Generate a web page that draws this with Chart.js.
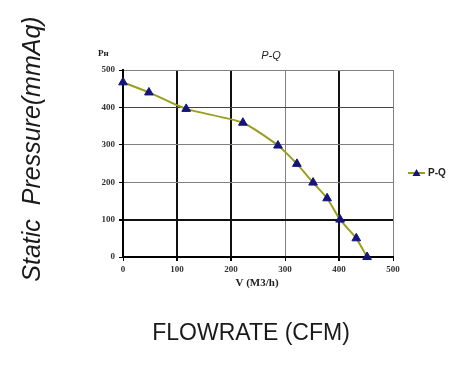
<!DOCTYPE html>
<html>
<head>
<meta charset="utf-8">
<script src="https://cdn.jsdelivr.net/npm/chart.js@4"></script>
<style>
  html, body { margin: 0; padding: 0; background: #fff; }
  #wrap { width: 473px; height: 373px; }
</style>
</head>
<body>
<div id="wrap"><canvas id="pqChart" width="473" height="373"></canvas></div>
<script>
// P-Q curve
const flowValues = [0, 48, 117, 222, 287, 322, 352, 378, 402, 432, 452];
const pressureValues = [467, 440, 396, 359, 298, 249, 199, 157, 100, 50, 0];
const xTicks = [0, 100, 200, 300, 400, 500];
const yTicks = [0, 100, 200, 300, 400, 500];
const seriesName = "P-Q";

const lineColor = "#9a9e1e";
const markerColor = "#14147a";

// grid lines in the scan are uneven: some dark, some grey
function xGridColor(ctx) {
  const v = ctx.tick && ctx.tick.value;
  return v === 100 || v === 200 || v === 400 ? "#111" : "#808080";
}
function yGridColor(ctx) {
  const v = ctx.tick && ctx.tick.value;
  if (v === 100) return "#111";
  if (v === 400) return "#444";
  return "#808080";
}

// Texts around the plot and the legend
const extraText = {
  id: "extraText",
  afterDraw(chart) {
    const c = chart.ctx;
    c.save();
    c.fillStyle = "#1a1a1a";

    // big y title
    c.save();
    c.translate(33, 149);
    c.rotate(-Math.PI / 2);
    c.font = 'italic 25px "Liberation Sans", Arial, sans-serif';
    c.textAlign = "center";
    c.textBaseline = "middle";
    c.fillText("Static  Pressure(mmAq)", 0, 0);
    c.restore();

    // big x title
    c.font = '23px "Liberation Sans", Arial, sans-serif';
    c.textAlign = "center";
    c.textBaseline = "alphabetic";
    c.fillText("FLOWRATE (CFM)", 251, 340);

    // small axis names
    c.fillStyle = "#222";
    c.font = 'bold 9px "Liberation Serif", serif';
    c.textAlign = "left";
    c.textBaseline = "middle";
    c.fillText("Pн", 98, 54);
    c.font = 'bold 11px "Liberation Serif", serif';
    c.textAlign = "center";
    c.fillText("V (M3/h)", 257, 283);

    // chart caption
    c.font = 'italic 11px "Liberation Sans", Arial, sans-serif';
    c.fillText(seriesName, 271, 56);

    // legend: short line with a triangle
    const ds = chart.data.datasets[0];
    c.strokeStyle = ds.borderColor;
    c.lineWidth = 2;
    c.beginPath();
    c.moveTo(408, 173);
    c.lineTo(425, 173);
    c.stroke();
    c.fillStyle = ds.pointBackgroundColor;
    c.beginPath();
    c.moveTo(416.5, 169);
    c.lineTo(420.5, 176);
    c.lineTo(412.5, 176);
    c.closePath();
    c.fill();
    c.fillStyle = "#222";
    c.font = 'bold 10px "Liberation Sans", Arial, sans-serif';
    c.textAlign = "left";
    c.fillText(ds.label, 428, 173);
    c.restore();
  },
};

const ctx = document.getElementById("pqChart").getContext("2d");
new Chart(ctx, {
  type: "line",
  data: {
    datasets: [
      {
        label: seriesName,
        data: flowValues.map((x, i) => ({ x: x, y: pressureValues[i] })),
        borderColor: lineColor,
        borderWidth: 2,
        tension: 0.2,
        clip: false,
        pointStyle: "triangle",
        pointRadius: 5,
        pointBackgroundColor: markerColor,
        pointBorderColor: markerColor,
        pointBorderWidth: 1,
        fill: false,
      },
    ],
  },
  plugins: [extraText],
  options: {
    responsive: false,
    animation: false,
    layout: { padding: { left: 0, right: 80, top: 70, bottom: 0 } },
    plugins: {
      legend: { display: false },
      title: { display: false },
      tooltip: { enabled: false },
    },
    scales: {
      x: {
        type: "linear",
        min: 0,
        max: 500,
        afterBuildTicks(scale) {
          scale.ticks = xTicks.map((v) => ({ value: v }));
        },
        afterFit(scale) {
          scale.height = 116;
        },
        border: { color: "#000", width: 2 },
        grid: {
          color: xGridColor,
          lineWidth: (c) => (xGridColor(c) === "#111" ? 2 : 1),
          tickLength: 4,
          tickColor: "#000",
        },
        ticks: {
          color: "#333",
          padding: 3,
          maxRotation: 0,
          font: { family: '"Liberation Serif", serif', size: 9, weight: "bold" },
        },
      },
      y: {
        min: 0,
        max: 500,
        afterBuildTicks(scale) {
          scale.ticks = yTicks.map((v) => ({ value: v }));
        },
        afterFit(scale) {
          scale.width = 123;
        },
        border: { color: "#000", width: 2 },
        grid: {
          color: yGridColor,
          lineWidth: (c) => (yGridColor(c) === "#111" ? 2 : 1),
          tickLength: 4,
          tickColor: "#000",
        },
        ticks: {
          color: "#333",
          padding: 4,
          font: { family: '"Liberation Serif", serif', size: 9, weight: "bold" },
        },
      },
    },
  },
});
</script>
</body>
</html>
